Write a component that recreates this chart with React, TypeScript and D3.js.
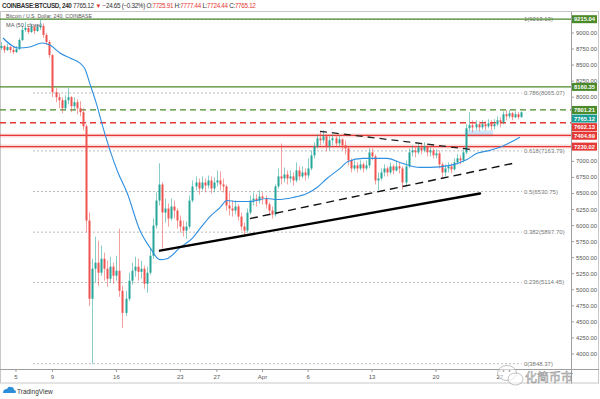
import React from 'react'
import * as d3 from 'd3'

// 8h bars, first bar opens 2020-03-03 08:00 UTC, open of each bar = previous close
const barStart = '2020-03-03T08:00:00Z'
const barHours = 8
const firstOpen = 8766
const closes = [
  8797, 8734, 8781, 8734, 8703, 8750, 8891, 9047, 9078, 9016,
  9094, 9031, 9094, 9110, 8969, 8859, 8656, 8078, 8000, 7953,
  7828, 7953, 8000, 7859, 7922, 7828, 7766, 7547, 6078, 4860,
  5328, 5422, 5266, 5484, 5328, 5172, 5360, 5219, 5297, 4984,
  4640, 4860, 5141, 5297, 5360, 5280, 5328, 5094, 5266, 5530,
  6000, 6390, 6640, 6203, 6266, 6110, 6297, 6234, 6078, 5984,
  5922, 5984, 6390, 6610, 6672, 6578, 6672, 6625, 6703, 6578,
  6672, 6703, 6640, 6610, 6313, 6266, 6234, 6297, 6140, 5984,
  5922, 6203, 6390, 6420, 6390, 6453, 6420, 6330, 6234, 6172,
  6610, 6766, 6734, 6797, 6734, 6766, 6703, 6859, 6766, 6828,
  6781, 6890, 7094, 7234, 7360, 7328, 7390, 7234, 7328, 7360,
  7280, 7344, 7250, 7203, 7016, 6890, 6938, 6890, 6953, 6890,
  6938, 7140, 7078, 6703, 6734, 6828, 6890, 6828, 6922, 6859,
  6922, 6890, 6672, 6922, 7140, 7172, 7140, 7219, 7172, 7234,
  7140, 7172, 7094, 7125, 6953, 6828, 6890, 6922, 6875, 6984,
  7047, 7016, 7140, 7516, 7563, 7530, 7578, 7530, 7578, 7547,
  7594, 7547, 7578, 7640, 7610, 7734, 7703, 7750, 7688, 7734,
  7690, 7765.12,
]
const highs = [
  8859, 8813, 8828, 8797, 8781, 8797, 8922, 9110, 9172, 9110,
  9140, 9125, 9140, 9213, 9150, 9000, 8891, 8672, 8141, 8063,
  8000, 8031, 8141, 8016, 8000, 7969, 7938, 7828, 7578, 6203,
  5484, 5828, 5766, 5688, 5578, 5453, 5516, 5422, 5530, 5953,
  5063, 4984, 5266, 5422, 5516, 5484, 5453, 5375, 5360, 5640,
  6110, 6516, 6970, 6672, 6420, 6344, 6420, 6390, 6266, 6156,
  6078, 6063, 6470, 6703, 6766, 6734, 6766, 6734, 6780, 6766,
  6750, 6859, 6844, 6734, 6640, 6516, 6390, 6390, 6330, 6203,
  6047, 6266, 6470, 6516, 6484, 6547, 6516, 6470, 6360, 6297,
  6640, 6890, 7280, 6906, 6859, 6859, 6828, 6984, 6922, 6922,
  6890, 7047, 7172, 7297, 7422, 7470, 7484, 7422, 7390, 7422,
  7406, 7406, 7360, 7328, 7234, 7047, 7016, 6984, 7016, 6984,
  7016, 7203, 7203, 7110, 6828, 6890, 6953, 6922, 6984, 6953,
  7016, 6984, 6922, 7016, 7203, 7250, 7234, 7280, 7266, 7297,
  7250, 7219, 7203, 7188, 7172, 6984, 6953, 6984, 6969, 7047,
  7110, 7094, 7203, 7578, 7766, 7640, 7640, 7625, 7640, 7625,
  7656, 7640, 7656, 7703, 7688, 7780, 7801, 7800, 7766, 7780,
  7766, 7777.44,
]
const lows = [
  8734, 8688, 8719, 8688, 8672, 8688, 8734, 8875, 9016, 8984,
  9000, 8984, 9016, 9047, 8922, 8813, 8609, 8000, 7922, 7828,
  7750, 7797, 7890, 7766, 7797, 7734, 7703, 7484, 5890, 4750,
  3848, 5110, 5063, 5219, 5141, 5047, 5110, 5094, 5141, 4890,
  4406, 4594, 4828, 5078, 5203, 5141, 5172, 5016, 4953, 5235,
  5484, 5953, 6313, 5640, 6047, 5984, 6078, 6110, 5953, 5890,
  5828, 5797, 5953, 6360, 6547, 6484, 6547, 6516, 6578, 6500,
  6516, 6610, 6547, 6516, 6234, 6156, 6140, 6172, 6078, 5922,
  5844, 5890, 6172, 6313, 6297, 6344, 6330, 6266, 6172, 6110,
  6140, 6578, 6640, 6672, 6640, 6672, 6625, 6672, 6703, 6734,
  6703, 6734, 6859, 7047, 7203, 7250, 7280, 7156, 7172, 7250,
  7220, 7234, 7172, 7110, 6938, 6828, 6859, 6828, 6859, 6828,
  6859, 6890, 7016, 6640, 6547, 6703, 6766, 6766, 6797, 6797,
  6844, 6813, 6560, 6610, 6890, 7078, 7063, 7110, 7110, 7140,
  7078, 7078, 7047, 7047, 6890, 6750, 6766, 6828, 6813, 6859,
  6953, 6953, 6984, 7110, 7470, 7453, 7484, 7470, 7500, 7484,
  7516, 7484, 7500, 7547, 7530, 7578, 7640, 7672, 7640, 7672,
  7656, 7680,
]

// MA(50, close): days after 2020-03-05 00:00 UTC
const maDays = [
  -1.42, 0.22, 1.53, 2.85, 3.72, 4.82, 5.91, 7.01, 7.56, 8.11, 8.76, 9.53,
  10.3, 11.17, 12.16, 13.58, 14.68, 15.77, 16.54, 17.96, 19.39, 20.15, 21.25,
  22.34, 23.11, 24.21, 25.63, 27.49, 28.59, 30.34, 31.87, 32.97, 34.06, 35.49,
  36.36, 38.01, 40.64, 42.06, 44.25, 45.35, 47.54, 49.4, 50.49, 51.92, 53.01, 55.2,
]
const maValues = [
  8922, 8766, 8781, 8844, 8813, 8688, 8609, 8531, 8438, 8203, 7922, 7531,
  7172, 6828, 6516, 5922, 5656, 5469, 5484, 5656, 5813, 5953, 6141,
  6281, 6391, 6375, 6375, 6422, 6406, 6438, 6500, 6594, 6734, 6891,
  7000, 7047, 7047, 6984, 6906, 6906, 6938, 7031, 7125, 7172, 7219, 7375,
]

const tickDates = ['2020-03-05', '2020-03-09', '2020-03-16', '2020-03-23', '2020-03-27',
  '2020-04-01', '2020-04-06', '2020-04-13', '2020-04-20', '2020-04-27']
const tickLabels = ['5', '9', '16', '23', '27', 'Apr', '6', '13', '20', '27']
const priceTicks = [4000, 4250, 4500, 4750, 5000, 5250, 5500, 5750, 6000, 6250, 6500,
  6750, 7000, 7250, 7500, 7750, 8000, 8250, 8500, 8750, 9000, 9250]

const levelPrices = [9215.04, 8160.35, 7801.21, 7765.12, 7602.13, 7404.69, 7230.02]

const fibRatios = ['1', '0.786', '0.618', '0.5', '0.382', '0.236', '0']
const fibPrices = [9213.13, 8065.07, 7163.79, 6530.75, 5897.7, 5114.45, 3848.37]
const fibRange = ['2020-03-06T20:40:00Z', '2020-04-29T10:00:00Z']

const supportLine: [string, number][] = [['2020-03-20T18:30:00Z', 5609], ['2020-04-24T19:40:00Z', 6500]]
const lowerDashLine: [string, number][] = [['2020-03-30T15:00:00Z', 6109], ['2020-04-28T10:30:00Z', 6969]]
const upperDashLine: [string, number][] = [['2020-04-07T07:00:00Z', 7469], ['2020-04-23T17:30:00Z', 7188]]
const rangeBox: [string, number][] = [['2020-04-23T04:00:00Z', 7484], ['2020-04-26T06:00:00Z', 7390]]

const UP = '#26a69a'
const DOWN = '#ef5350'
const GREEN = '#4a8a2a'
const RED = '#e53935'
const FONT = 'Liberation Sans, Arial, sans-serif'

const PR = 571, PT = 12, PB = 369

export default function App() {
  const x = d3.scaleUtc()
    .domain([new Date('2020-03-03T06:00:00Z'), new Date('2020-05-04T19:00:00Z')])
    .range([0, PR])
  const y = d3.scaleLinear().domain([3766, 9327]).range([PB, PT])

  const t0 = new Date(barStart).getTime()
  const bars = closes.map((c, i) => ({
    t: new Date(t0 + i * barHours * 3600e3),
    o: i === 0 ? firstOpen : closes[i - 1],
    h: highs[i], l: lows[i], c,
  }))

  const dayMs = 86400e3
  const maBase = new Date('2020-03-05T00:00:00Z').getTime()
  const maLine = d3.line<number>()
    .x((d, i) => x(new Date(maBase + maDays[i] * dayMs)))
    .y(d => y(d))
    .curve(d3.curveMonotoneX)(maValues)

  const seg = (p: [string, number][]) => ({
    x1: x(new Date(p[0][0])), y1: y(p[0][1]), x2: x(new Date(p[1][0])), y2: y(p[1][1]),
  })

  // level labels on the price axis, pushed apart when they collide
  const levelStyle = [
    { c: GREEN, dash: '', line: true }, { c: GREEN, dash: '', line: true },
    { c: GREEN, dash: '6,4', line: true }, { c: '#1e9e97', dash: '', line: false },
    { c: RED, dash: '6,4', line: true }, { c: RED, dash: '', line: true },
    { c: RED, dash: '', line: true },
  ]
  const labelY: number[] = []
  levelPrices.forEach((p, i) => {
    let ly = y(p)
    if (i > 0 && ly < labelY[i - 1] + 8.6) ly = labelY[i - 1] + 8.6
    labelY.push(ly)
  })

  const fx1 = x(new Date(fibRange[0])), fx2 = x(new Date(fibRange[1]))
  const box = seg(rangeBox)

  return (
    <svg width={600} height={399} style={{ display: 'block', position: 'absolute', left: 0, top: 0 }}
      fontFamily={FONT}>
      <rect width={600} height={399} fill="#fff" />
      <defs>
        <clipPath id="plot"><rect x={0} y={PT} width={PR} height={PB - PT} /></clipPath>
      </defs>

      {/* header */}
      <text x={2} y={8} fontSize={6.3} fill="#333" letterSpacing={-0.3}>
        <tspan fontWeight="bold">COINBASE:BTCUSD, 240 </tspan>
        <tspan>7765.12 </tspan>
        <tspan fill={RED}>▼ </tspan>
        <tspan>−24.65 (−0.32%) O:</tspan>
        <tspan fill={RED}>7725.91 </tspan>
        <tspan>H:</tspan>
        <tspan fill={RED}>7777.44 </tspan>
        <tspan>L:</tspan>
        <tspan fill={RED}>7724.44 </tspan>
        <tspan>C:</tspan>
        <tspan fill={RED}>7765.12</tspan>
      </text>

      {/* frame */}
      <rect x={0.5} y={PT - 0.5} width={598} height={383.5 - PT} fill="none" stroke="#c8c8c8" />
      <line x1={0} x2={599} y1={PB + 0.5} y2={PB + 0.5} stroke="#9e9e9e" />
      <line x1={PR + 0.5} x2={PR + 0.5} y1={PT} y2={383.5} stroke="#9e9e9e" />

      <g clipPath="url(#plot)">
        {/* fib levels */}
        {fibPrices.map((p, i) => (
          <line key={'f' + i} x1={fx1} x2={fx2} y1={y(p)} y2={y(p)}
            stroke="#a8a8a8" strokeWidth={0.8} strokeDasharray="2,2" />
        ))}
        {fibPrices.map((p, i) => (
          <text key={'ft' + i} x={fx2 + 2} y={y(p) + 2} fontSize={6} fill="#777">
            {fibRatios[i]}({p.toFixed(2)})
          </text>
        ))}

        {/* range highlight */}
        <rect x={box.x1} y={box.y1} width={box.x2 - box.x1} height={box.y2 - box.y1}
          fill="#2196f3" fillOpacity={0.22} />

        {/* horizontal levels */}
        {levelPrices.map((p, i) => levelStyle[i].line && (
          <g key={'l' + i}>
            {levelStyle[i].c === RED && !levelStyle[i].dash && (
              <line x1={0} x2={PR} y1={y(p)} y2={y(p)} stroke={RED} strokeOpacity={0.18} strokeWidth={4} />
            )}
            <line x1={0} x2={PR} y1={y(p)} y2={y(p)} stroke={levelStyle[i].c}
              strokeWidth={1.3} strokeDasharray={levelStyle[i].dash || undefined} />
          </g>
        ))}

        {/* candles */}
        {bars.map((b, i) => {
          const cx = Math.round(x(b.t))
          const col = b.c >= b.o ? UP : DOWN
          const top = y(Math.max(b.o, b.c)), bot = y(Math.min(b.o, b.c))
          return (
            <g key={'b' + i}>
              <line x1={cx + 0.5} x2={cx + 0.5} y1={y(b.h)} y2={y(b.l)} stroke={col} strokeOpacity={0.55} />
              <rect x={cx - 0.5} y={top} width={2} height={Math.max(1, bot - top)} fill={col} />
            </g>
          )
        })}

        {/* moving average */}
        <path d={maLine ?? ''} fill="none" stroke="#2f8fe0" strokeWidth={1.1} />

        {/* trend lines */}
        <line {...seg(supportLine)} stroke="#000" strokeWidth={2.4} strokeLinecap="round" />
        <line {...seg(lowerDashLine)} stroke="#111" strokeWidth={1.4} strokeDasharray="8,5" />
        <line {...seg(upperDashLine)} stroke="#222" strokeWidth={1.3} strokeDasharray="7,5" />
      </g>

      {/* legend */}
      <text x={6} y={18} fontSize={6} fill="#555" textLength={86} lengthAdjust="spacingAndGlyphs">
        Bitcoin / U.S. Dollar, 240, COINBASE
      </text>
      <text x={6} y={26.5} fontSize={6} fill="#555" textLength={36} lengthAdjust="spacingAndGlyphs">
        MA (50, close)
      </text>

      {/* price axis */}
      {priceTicks.map(p => {
        const ty = y(p)
        const hidden = labelY.some(ly => Math.abs(ly - ty) < 5)
        return (
          <g key={'p' + p}>
            <line x1={PR} x2={PR + 3} y1={ty} y2={ty} stroke="#9e9e9e" />
            {!hidden && (
              <text x={576} y={ty + 2} fontSize={5.8} fill="#555">{p.toFixed(2)}</text>
            )}
          </g>
        )
      })}
      {levelPrices.map((p, i) => (
        <g key={'lb' + i}>
          <rect x={572} y={labelY[i] - 4} width={25} height={8} fill={levelStyle[i].c} />
          <text x={584.5} y={labelY[i] + 2.2} fontSize={5.8} fontWeight="bold" fill="#fff"
            textAnchor="middle">{p.toFixed(2)}</text>
        </g>
      ))}

      {/* time axis */}
      {tickDates.map((d, i) => {
        const tx = x(new Date(d + 'T00:00:00Z'))
        return (
          <g key={'t' + i}>
            <line x1={tx} x2={tx} y1={PB} y2={PB + 3} stroke="#9e9e9e" />
            <text x={tx} y={379} fontSize={6} fill="#555" textAnchor="middle">{tickLabels[i]}</text>
          </g>
        )
      })}

      {/* watermark */}
      <g opacity={0.85}>
        <ellipse cx={507} cy={373} rx={9.5} ry={7.5} fill="#fff" fillOpacity={0.6} stroke="#999" strokeWidth={0.7} />
        <ellipse cx={515.5} cy={379} rx={7.5} ry={6} fill="#fff" fillOpacity={0.6} stroke="#999" strokeWidth={0.7} />
        <circle cx={503.5} cy={371} r={0.9} fill="#999" />
        <circle cx={509.5} cy={371} r={0.9} fill="#999" />
        <text x={525} y={381.5} fontSize={12} fill="#fff" fillOpacity={0.4} stroke="#8a8a8a" strokeWidth={0.6}
          fontFamily="Noto Sans CJK SC">化简币市</text>
      </g>

      {/* footer logo */}
      <g>
        <path d="M3,393 q0,-4 4,-4 q1,-3 4,-2 q3,0 3,3 q2,0 2,2 q0,1 -1,1 z" fill="#2a8fd8" />
        <text x={17} y={393.5} fontSize={6.5} fill="#333">TradingView</text>
      </g>
    </svg>
  )
}
